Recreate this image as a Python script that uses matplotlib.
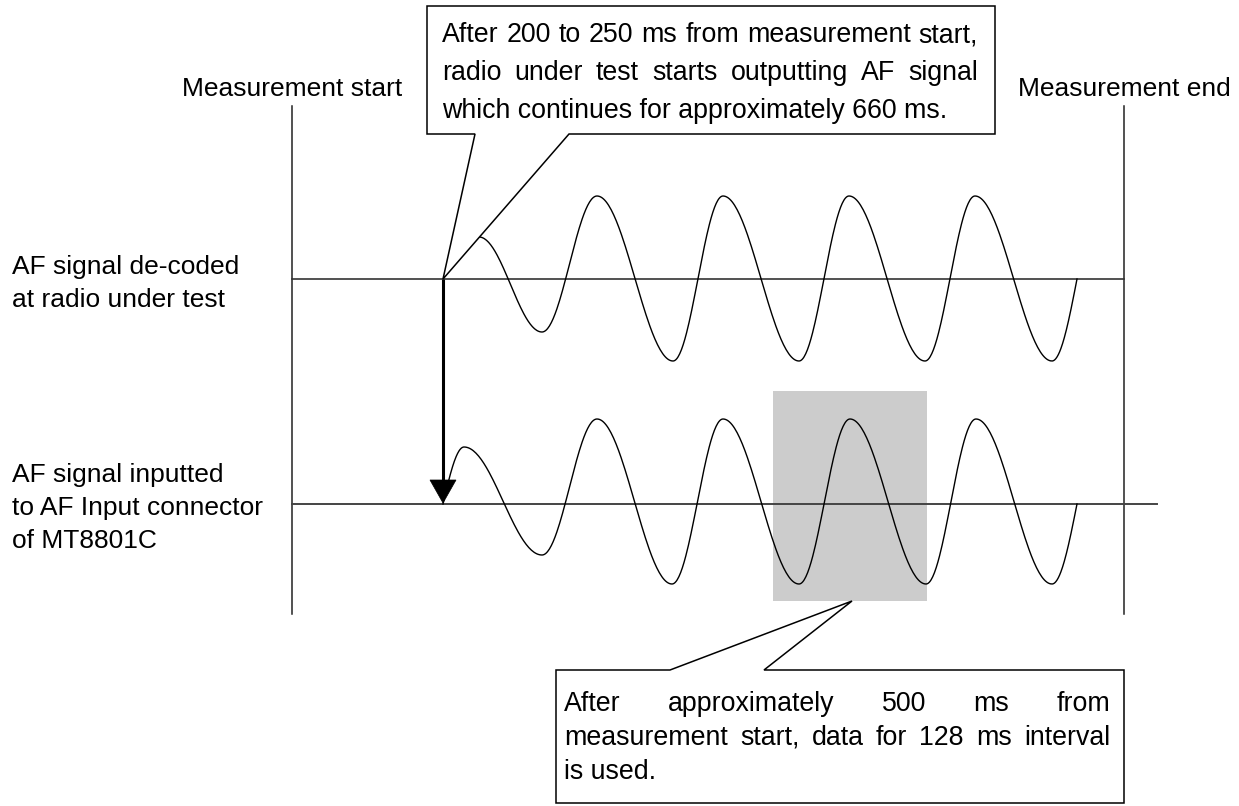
import numpy as np
import matplotlib
matplotlib.use("Agg")
import matplotlib.pyplot as plt
from matplotlib.patches import Polygon, Rectangle

plt.rcParams['font.family'] = ['Liberation Sans', 'DejaVu Sans']

# ---------------- data ----------------
# channel labels
top_label_lines = ["AF signal de-coded", "at radio under test"]
bottom_label_lines = ["AF signal inputted", "to AF Input connector", "of MT8801C"]
start_label = "Measurement start"
end_label = "Measurement end"
top_note_lines = ["After 200 to 250 ms from measurement start,",
                  "radio under test starts outputting AF signal",
                  "which continues for approximately 660 ms."]
bottom_note_lines = ["After approximately 500 ms from",
                     "measurement start, data for 128 ms interval",
                     "is used."]

# waveform anchor points (x position in px, deviation from baseline in px, + = up)
top_wave_x = [479, 542, 597, 673, 723, 799, 849, 925, 975, 1052, 1077]
top_wave_dev = [42, -53, 83, -82, 83, -82, 83, -82, 83, -82, 0]
bot_wave_x = [443, 464, 542, 597, 672, 723, 799, 850, 926, 976, 1052, 1077]
bot_wave_dev = [0, 57, -51, 85, -80, 85, -80, 85, -80, 85, -80, 0]

# ---------------- layout ----------------
W, H = 1239, 806
top_base_y, bot_base_y = 279, 504
start_x, end_x = 292, 1124
vline_top, vline_bot = 106, 614
top_base_x = (292, 1124)
bot_base_x = (292, 1157)
arrow_x = 443

fig = plt.figure(figsize=(W / 100, H / 100), dpi=100)
ax = fig.add_axes([0, 0, 1, 1])
ax.set_xlim(0, W)
ax.set_ylim(H, 0)
ax.axis('off')

FS = 19
FS_NOTE = 19.3


def wave_path(xs, devs, base):
    px, py = [], []
    for i in range(len(xs) - 1):
        x0, x1 = xs[i], xs[i + 1]
        d0, d1 = devs[i], devs[i + 1]
        t = np.linspace(0, 1, 60)
        if d0 == 0:      # from a zero crossing to an extremum: quarter sine
            d = d1 * np.sin(t * np.pi / 2)
        elif d1 == 0:    # from extremum back to zero crossing
            d = d0 * np.cos(t * np.pi / 2)
        else:            # extremum to extremum: half cosine
            d = (d0 + d1) / 2 + (d0 - d1) / 2 * np.cos(t * np.pi)
        px.extend(x0 + (x1 - x0) * t)
        py.extend(base - d)
    return np.array(px), np.array(py)


# shaded analysis window
ax.add_patch(Rectangle((773, 391), 927 - 773, 601 - 391, facecolor='#cccccc',
                       edgecolor='none', zorder=0))

# measurement start / end vertical lines
for vx in (start_x, end_x):
    ax.plot([vx, vx], [vline_top, vline_bot], color='#222222', lw=1.1, zorder=1)

# baselines
ax.plot(top_base_x, [top_base_y, top_base_y], color='#333333', lw=1.2, zorder=1)
ax.plot(bot_base_x, [bot_base_y, bot_base_y], color='#444444', lw=1.4, zorder=1)

# waveforms
x, y = wave_path(top_wave_x, top_wave_dev, top_base_y)
ax.plot(x, y, color='black', lw=1.0, zorder=2)
x, y = wave_path(bot_wave_x, bot_wave_dev, bot_base_y)
ax.plot(x, y, color='black', lw=1.0, zorder=2)

# delay arrow
ax.plot([arrow_x, arrow_x], [top_base_y, 482], color='black', lw=2.2, zorder=4,
        solid_capstyle='butt')
ax.add_patch(Polygon([(arrow_x - 13, 480), (arrow_x + 13, 480), (arrow_x, 503)],
                     closed=True, facecolor='black', edgecolor='black', lw=0.5, zorder=4))

# callout boxes
top_box = [(427, 6), (995, 6), (995, 134), (569, 134), (arrow_x, top_base_y),
           (475, 134), (427, 134)]
ax.add_patch(Polygon(top_box, closed=True, facecolor='white', edgecolor='black',
                     lw=1.1, zorder=3, joinstyle='miter'))
bot_box = [(556, 670), (670, 670), (852, 601), (764, 670), (1124, 670),
           (1124, 803), (556, 803)]
ax.add_patch(Polygon(bot_box, closed=True, facecolor='white', edgecolor='black',
                     lw=1.1, zorder=3, joinstyle='miter'))

# simple texts
ax.text(start_x, 96, start_label, fontsize=FS, ha='center', va='baseline', zorder=5)
ax.text(end_x, 96, end_label, fontsize=FS, ha='center', va='baseline', zorder=5)
for line, by in zip(top_label_lines, [274, 307]):
    ax.text(12, by, line, fontsize=FS, ha='left', va='baseline', zorder=5)
for line, by in zip(bottom_label_lines, [482, 515, 548]):
    ax.text(12, by, line, fontsize=FS, ha='left', va='baseline', zorder=5)

# justified paragraph texts
fig.canvas.draw()
renderer = fig.canvas.get_renderer()
inv = ax.transData.inverted()


def justified(line, x0, x1, by, justify=True):
    if not justify:
        ax.text(x0, by, line, fontsize=FS_NOTE, ha='left', va='baseline', zorder=5)
        return
    words = line.split(' ')
    objs = [ax.text(0, by, w, fontsize=FS_NOTE, ha='left', va='baseline', zorder=5)
            for w in words]
    widths = []
    for o in objs:
        bb = o.get_window_extent(renderer=renderer)
        (a, _), (b, _) = inv.transform([(bb.x0, 0), (bb.x1, 0)])
        widths.append(b - a)
    gap = (x1 - x0 - sum(widths)) / (len(words) - 1)
    cx = x0
    for o, w in zip(objs, widths):
        o.set_x(cx)
        cx += w + gap


for i, (line, by) in enumerate(zip(top_note_lines, [42, 80, 118])):
    justified(line, 442, 978, by, i < 2)
for i, (line, by) in enumerate(zip(bottom_note_lines, [711, 745, 779])):
    justified(line, 564, 1110, by, i < 2)

fig.savefig('out.png', dpi=100)
